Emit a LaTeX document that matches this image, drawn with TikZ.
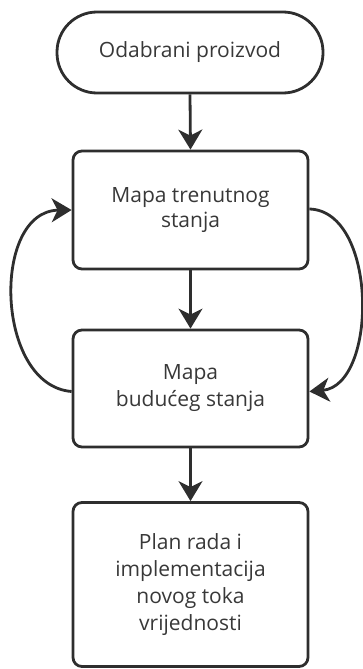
\documentclass[tikz,border=0pt]{standalone}
\usepackage{fontspec}
\setmainfont{Open Sans}
\usetikzlibrary{arrows.meta}
\definecolor{ln}{HTML}{2E2E2E}
\definecolor{tx}{HTML}{383838}
\tikzset{
  box/.style={draw=ln, line width=2.8pt, rounded corners=9pt, minimum width=235pt, inner sep=0pt, align=center, text=tx, font=\fontsize{21pt}{27pt}\selectfont},
  term/.style={box, rounded corners=40pt, minimum width=266pt, minimum height=81pt},
  arr/.style={draw=ln, line width=2.8pt, -{Stealth[length=20pt, width=24pt, inset=6pt]}},
}
\begin{document}
\begin{tikzpicture}[x=1pt,y=-1pt]
\useasboundingbox (0,0) rectangle (363,669);
\node[term] (t) at (190,52.5) {Odabrani proizvod};
\node[box, minimum height=118pt] (b2) at (190.5,210) {\raisebox{-2pt}{\shortstack[c]{Mapa trenutnog\\[1pt]stanja}}};
\node[box, minimum height=117pt] (b3) at (190.5,388.5) {Mapa\\budućeg stanja};
\node[box, minimum height=164pt] (b4) at (190.5,584.5) {Plan rada i\\implementacija\\novog toka\\vrijednosti};
\draw[arr] (t.south) -- (b2.north);
\draw[arr] (b2.south) -- (b3.north);
\draw[arr] (b3.south) -- (b4.north);
\coordinate (l3) at ([yshift=-3pt]b3.west);
\coordinate (r2) at ([yshift=1pt]b2.east);
\draw[arr] (l3) .. controls (-5,385.5) and (-9,211) .. (b2.west);
\draw[arr] (r2) .. controls (378,211) and (378,385.5) .. ([yshift=-3pt]b3.east);
\end{tikzpicture}
\end{document}
